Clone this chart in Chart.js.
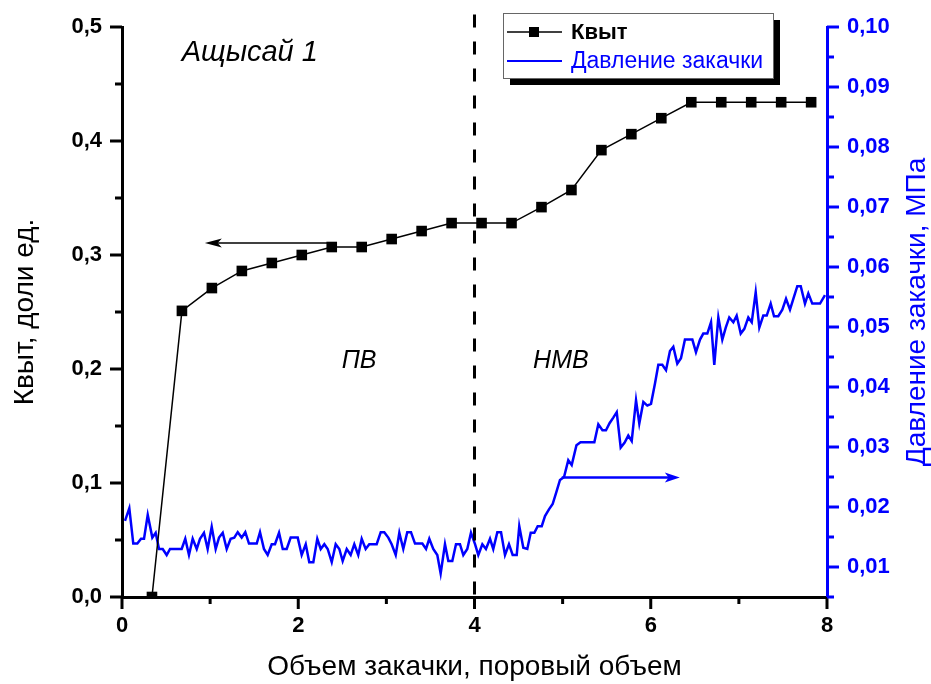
<!DOCTYPE html>
<html>
<head>
<meta charset="utf-8">
<script src="https://cdn.jsdelivr.net/npm/chart.js@4"></script>
<style>
  body { margin: 0; background: #fff; }
  canvas { display: block; }
</style>
</head>
<body>
<canvas id="chart" width="931" height="684"></canvas>
<script>
// Квыт (left axis)
const kvytX = [0.34, 0.68, 1.02, 1.36, 1.70, 2.04, 2.38, 2.72, 3.06, 3.40, 3.74, 4.08,
  4.42, 4.76, 5.10, 5.44, 5.78, 6.12, 6.46, 6.80, 7.14, 7.48, 7.82];
const kvytY = [0.000, 0.251, 0.271, 0.286, 0.293, 0.300, 0.307, 0.307, 0.314, 0.321, 0.328, 0.328,
  0.328, 0.342, 0.357, 0.392, 0.406, 0.420, 0.434, 0.434, 0.434, 0.434, 0.434];

// Давление закачки (right axis)
const pressureX = [0.034, 0.083, 0.128, 0.174, 0.216, 0.250, 0.292, 0.344, 0.382, 0.420,
  0.462, 0.507, 0.545, 0.590, 0.635, 0.677, 0.718, 0.760, 0.802, 0.848,
  0.885, 0.930, 0.972, 1.018, 1.063, 1.101, 1.143, 1.188, 1.233, 1.274,
  1.313, 1.358, 1.399, 1.441, 1.485, 1.529, 1.566, 1.611, 1.653, 1.699,
  1.736, 1.782, 1.824, 1.869, 1.914, 1.954, 1.994, 2.039, 2.085, 2.125,
  2.171, 2.216, 2.255, 2.296, 2.334, 2.380, 2.425, 2.466, 2.504, 2.550,
  2.595, 2.636, 2.681, 2.720, 2.765, 2.806, 2.848, 2.890, 2.936, 2.976,
  3.022, 3.060, 3.106, 3.147, 3.192, 3.237, 3.279, 3.325, 3.367, 3.408,
  3.450, 3.487, 3.532, 3.578, 3.616, 3.665, 3.703, 3.748, 3.790, 3.835,
  3.873, 3.918, 3.960, 4.006, 4.043, 4.089, 4.130, 4.176, 4.213, 4.259,
  4.301, 4.346, 4.391, 4.433, 4.479, 4.508, 4.554, 4.599, 4.638, 4.679,
  4.717, 4.763, 4.800, 4.845, 4.887, 4.933, 4.970, 5.016, 5.064, 5.103,
  5.157, 5.203, 5.250, 5.305, 5.360, 5.405, 5.452, 5.492, 5.534, 5.575,
  5.614, 5.659, 5.702, 5.745, 5.784, 5.833, 5.870, 5.916, 5.961, 6.003,
  6.048, 6.086, 6.131, 6.173, 6.218, 6.256, 6.301, 6.343, 6.388, 6.431,
  6.472, 6.513, 6.559, 6.596, 6.642, 6.684, 6.721, 6.767, 6.812, 6.851,
  6.891, 6.937, 6.975, 7.021, 7.062, 7.107, 7.146, 7.191, 7.232, 7.277,
  7.316, 7.361, 7.399, 7.447, 7.493, 7.535, 7.580, 7.618, 7.663, 7.702,
  7.750, 7.788, 7.833, 7.875, 7.921, 7.977];
const pressureY = [0.0177, 0.0198, 0.0139, 0.0139, 0.0147, 0.0147, 0.0187, 0.0149, 0.0157, 0.0130,
  0.0130, 0.0120, 0.0130, 0.0130, 0.0130, 0.0130, 0.0147, 0.0120, 0.0147, 0.0130,
  0.0147, 0.0157, 0.0130, 0.0167, 0.0130, 0.0149, 0.0157, 0.0130, 0.0147, 0.0149,
  0.0158, 0.0149, 0.0158, 0.0139, 0.0139, 0.0139, 0.0158, 0.0130, 0.0120, 0.0138,
  0.0138, 0.0157, 0.0130, 0.0130, 0.0149, 0.0149, 0.0149, 0.0120, 0.0138, 0.0108,
  0.0108, 0.0147, 0.0130, 0.0138, 0.0130, 0.0108, 0.0138, 0.0130, 0.0110, 0.0130,
  0.0120, 0.0138, 0.0120, 0.0147, 0.0130, 0.0138, 0.0138, 0.0138, 0.0158, 0.0158,
  0.0149, 0.0138, 0.0120, 0.0157, 0.0130, 0.0158, 0.0158, 0.0139, 0.0139, 0.0139,
  0.0130, 0.0147, 0.0130, 0.0120, 0.0089, 0.0138, 0.0110, 0.0110, 0.0138, 0.0138,
  0.0120, 0.0130, 0.0157, 0.0138, 0.0120, 0.0138, 0.0130, 0.0147, 0.0130, 0.0158,
  0.0158, 0.0120, 0.0138, 0.0120, 0.0120, 0.0168, 0.0132, 0.0130, 0.0157, 0.0157,
  0.0168, 0.0168, 0.0185, 0.0196, 0.0205, 0.0227, 0.0245, 0.0250, 0.0278, 0.0270,
  0.0303, 0.0308, 0.0308, 0.0308, 0.0308, 0.0338, 0.0328, 0.0328, 0.0340, 0.0349,
  0.0358, 0.0299, 0.0307, 0.0319, 0.0310, 0.0378, 0.0339, 0.0375, 0.0369, 0.0372,
  0.0406, 0.0437, 0.0437, 0.0428, 0.0460, 0.0467, 0.0439, 0.0448, 0.0479, 0.0479,
  0.0479, 0.0458, 0.0479, 0.0489, 0.0489, 0.0508, 0.0437, 0.0516, 0.0479, 0.0499,
  0.0516, 0.0508, 0.0519, 0.0489, 0.0497, 0.0516, 0.0508, 0.0558, 0.0499, 0.0519,
  0.0519, 0.0539, 0.0518, 0.0518, 0.0529, 0.0547, 0.0529, 0.0547, 0.0568, 0.0568,
  0.0539, 0.0556, 0.0539, 0.0539, 0.0539, 0.0553];

// boundary between zones, arrows and labels (data coordinates)
const boundaryX = 4;
const boundaryTop = 0.511;
const kvytArrow = { from: 2.37, to: 0.94, y: 0.3105 };
const pressureArrow = { from: 4.99, to: 6.33, y: 0.0249 };
const notes = [
  { text: "Ащысай 1", x: 1.45, y: 0.477, size: 29 },
  { text: "ПВ", x: 2.69, y: 0.207, size: 25 },
  { text: "НМВ", x: 4.98, y: 0.207, size: 25 },
];

const FONT = "'Liberation Sans', Arial, sans-serif";
const BLUE = "#0000ff";

const comma = (v, d) => v.toFixed(d).replace(".", ",");
const isStep = (v, k) => Math.abs(v * k - Math.round(v * k)) < 1e-6;

function drawTicks(ctx, scale, color, side) {
  ctx.save();
  ctx.strokeStyle = color;
  ctx.lineWidth = 3;
  scale.ticks.forEach((t) => {
    const len = t.label ? 12 : 7;
    const p = scale.getPixelForValue(t.value);
    ctx.beginPath();
    if (side === "bottom") {
      ctx.moveTo(p, scale.top);
      ctx.lineTo(p, scale.top + len);
    } else if (side === "left") {
      ctx.moveTo(scale.right - len, p);
      ctx.lineTo(scale.right, p);
    } else {
      ctx.moveTo(scale.left, p);
      ctx.lineTo(scale.left + len, p);
    }
    ctx.stroke();
  });
  ctx.restore();
}

function drawArrow(ctx, x1, x2, y, color, width, head, half) {
  const dir = Math.sign(x2 - x1);
  ctx.save();
  ctx.strokeStyle = color;
  ctx.fillStyle = color;
  ctx.lineWidth = width;
  ctx.beginPath();
  ctx.moveTo(x1, y);
  ctx.lineTo(x2 - dir * head * 0.7, y);
  ctx.stroke();
  ctx.beginPath();
  ctx.moveTo(x2, y);
  ctx.lineTo(x2 - dir * head, y - half);
  ctx.lineTo(x2 - dir * head * 0.75, y);
  ctx.lineTo(x2 - dir * head, y + half);
  ctx.closePath();
  ctx.fill();
  ctx.restore();
}

const decor = {
  id: "decor",
  afterDraw(chart) {
    const { ctx, chartArea } = chart;
    const { x, y, y1 } = chart.scales;

    drawTicks(ctx, x, "#000", "bottom");
    drawTicks(ctx, y, "#000", "left");
    drawTicks(ctx, y1, BLUE, "right");

    // dashed boundary line
    ctx.save();
    ctx.strokeStyle = "#000";
    ctx.lineWidth = 3;
    ctx.setLineDash([13, 14]);
    ctx.beginPath();
    ctx.moveTo(x.getPixelForValue(boundaryX), y.getPixelForValue(boundaryTop));
    ctx.lineTo(x.getPixelForValue(boundaryX), chartArea.bottom);
    ctx.stroke();
    ctx.restore();

    drawArrow(ctx, x.getPixelForValue(kvytArrow.from), x.getPixelForValue(kvytArrow.to),
      y.getPixelForValue(kvytArrow.y), "#000", 1.5, 17, 4.5);
    drawArrow(ctx, x.getPixelForValue(pressureArrow.from), x.getPixelForValue(pressureArrow.to),
      y1.getPixelForValue(pressureArrow.y), BLUE, 2.5, 15, 5);

    // italic notes
    ctx.save();
    ctx.fillStyle = "#000";
    ctx.textAlign = "center";
    ctx.textBaseline = "middle";
    notes.forEach((n) => {
      ctx.font = `italic ${n.size}px ${FONT}`;
      ctx.fillText(n.text, x.getPixelForValue(n.x), y.getPixelForValue(n.y));
    });
    ctx.restore();

    // right axis title, reads bottom to top
    ctx.save();
    ctx.translate(917, (chartArea.top + chartArea.bottom) / 2);
    ctx.rotate(-Math.PI / 2);
    ctx.fillStyle = BLUE;
    ctx.font = `28px ${FONT}`;
    ctx.textAlign = "center";
    ctx.textBaseline = "middle";
    ctx.fillText("Давление закачки, МПа", 0, 0);
    ctx.restore();

    // legend box with shadow
    const ds = chart.data.datasets;
    const bx = 503, by = 13, bw = 270, bh = 65;
    ctx.save();
    ctx.fillStyle = "#000";
    ctx.fillRect(bx + 7, by + 7, bw, bh);
    ctx.fillStyle = "#fff";
    ctx.fillRect(bx, by, bw, bh);
    ctx.strokeStyle = "#666";
    ctx.lineWidth = 1;
    ctx.strokeRect(bx + 0.5, by + 0.5, bw, bh);

    ctx.strokeStyle = ds[0].borderColor;
    ctx.lineWidth = 1.5;
    ctx.beginPath();
    ctx.moveTo(bx + 4, by + 19);
    ctx.lineTo(bx + 59, by + 19);
    ctx.stroke();
    ctx.fillStyle = ds[0].backgroundColor;
    ctx.fillRect(bx + 31 - 5, by + 19 - 5, 10, 10);
    ctx.font = `bold 22px ${FONT}`;
    ctx.textBaseline = "middle";
    ctx.fillText(ds[0].label, bx + 68, by + 20);

    ctx.strokeStyle = ds[1].borderColor;
    ctx.lineWidth = 2;
    ctx.beginPath();
    ctx.moveTo(bx + 4, by + 48);
    ctx.lineTo(bx + 59, by + 48);
    ctx.stroke();
    ctx.fillStyle = ds[1].borderColor;
    ctx.font = `23px ${FONT}`;
    ctx.fillText(ds[1].label, bx + 68, by + 49);
    ctx.restore();
  },
};

new Chart(document.getElementById("chart").getContext("2d"), {
  type: "line",
  data: {
    datasets: [
      {
        label: "Квыт",
        data: kvytX.map((v, i) => ({ x: v, y: kvytY[i] })),
        yAxisID: "y",
        borderColor: "#000",
        backgroundColor: "#000",
        borderWidth: 1.5,
        pointStyle: "rect",
        pointRadius: 7.5,
        pointHoverRadius: 7.5,
        pointBorderWidth: 0,
        tension: 0,
        clip: { left: 10, top: 10, right: 10, bottom: 0 },
      },
      {
        label: "Давление закачки",
        data: pressureX.map((v, i) => ({ x: v, y: pressureY[i] })),
        yAxisID: "y1",
        borderColor: BLUE,
        backgroundColor: BLUE,
        borderWidth: 2.5,
        pointRadius: 0,
        tension: 0,
      },
    ],
  },
  options: {
    responsive: false,
    animation: false,
    devicePixelRatio: 1,
    layout: { padding: { top: 27, left: 0, right: 0, bottom: 0 } },
    plugins: {
      legend: { display: false },
      tooltip: { enabled: false },
    },
    scales: {
      x: {
        type: "linear",
        min: 0,
        max: 8,
        afterFit: (s) => { s.height = 87; },
        border: { color: "#000", width: 3 },
        grid: { drawOnChartArea: false, tickLength: 12, tickColor: "rgba(0,0,0,0)" },
        ticks: {
          stepSize: 1,
          autoSkip: false,
          maxRotation: 0,
          padding: 4,
          color: "#000",
          font: { family: FONT, size: 22, weight: "bold" },
          callback: (v) => (v % 2 === 0 ? String(v) : ""),
        },
        title: {
          display: true,
          text: "Объем закачки, поровый объем",
          color: "#000",
          font: { family: FONT, size: 28 },
          padding: { top: 0, bottom: 0 },
        },
      },
      y: {
        position: "left",
        min: 0,
        max: 0.5,
        afterFit: (s) => { s.width = 122; },
        border: { color: "#000", width: 3 },
        grid: { drawOnChartArea: false, tickLength: 12, tickColor: "rgba(0,0,0,0)" },
        ticks: {
          stepSize: 0.05,
          autoSkip: false,
          padding: 8,
          color: "#000",
          font: { family: FONT, size: 22, weight: "bold" },
          callback: (v) => (isStep(v, 10) ? comma(v, 1) : ""),
        },
        title: {
          display: true,
          text: "Квыт, доли ед.",
          color: "#000",
          font: { family: FONT, size: 28 },
          padding: { top: 8, bottom: 0 },
        },
      },
      y1: {
        position: "right",
        min: 0.005,
        max: 0.1,
        afterFit: (s) => { s.width = 104; },
        border: { color: BLUE, width: 3 },
        grid: { drawOnChartArea: false, tickLength: 12, tickColor: "rgba(0,0,0,0)" },
        ticks: {
          stepSize: 0.005,
          autoSkip: false,
          padding: 8,
          color: BLUE,
          font: { family: FONT, size: 22, weight: "bold" },
          callback: (v) => (isStep(v, 100) ? comma(v, 2) : ""),
        },
      },
    },
  },
  plugins: [decor],
});
</script>
</body>
</html>
